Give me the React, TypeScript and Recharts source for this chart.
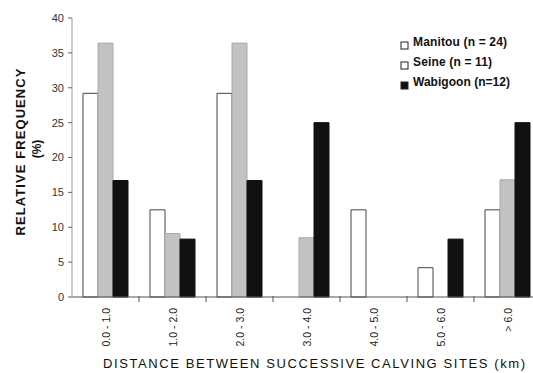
import { BarChart, Bar, XAxis, YAxis } from "recharts";

// distance classes (km)
const categories = ["0.0 - 1.0", "1.0 - 2.0", "2.0 - 3.0", "3.0 - 4.0", "4.0 - 5.0", "5.0 - 6.0", "> 6.0"];

// relative frequency (%)
const manitou = [29.2, 12.5, 29.2, 0, 12.5, 4.2, 12.5];
const seine = [36.4, 9.1, 36.4, 8.5, 0, 0, 16.8];
const wabigoon = [16.7, 8.3, 16.7, 25, 0, 8.3, 25];

const yTicks = [0, 5, 10, 15, 20, 25, 30, 35, 40];

const legendItems = [
    { label: "Manitou (n = 24)", fill: "#fff", len: 94 },
    { label: "Seine (n = 11)", fill: "#fff", len: 79 },
    { label: "Wabigoon (n=12)", fill: "#111", len: 97 },
];

const data = categories.map((c, i) => ({
    name: c,
    manitou: manitou[i],
    seine: seine[i],
    wabigoon: wabigoon[i],
}));

const font = "'Liberation Sans', Arial, sans-serif";

const XTick = (props: any) => {
    const { x, y, payload } = props;
    const half = payload && payload.offset ? payload.offset : 33.5;
    return (
        <g>
            <line x1={x + half} x2={x + half} y1={y - 3} y2={y + 3} stroke="#555" />
            <text
                x={0}
                y={0}
                transform={`translate(${x + 4},${y + 9}) rotate(-90)`}
                textAnchor="end"
                fontSize={10.5}
                fontFamily={font}
                fill="#222"
            >
                {payload.value}
            </text>
        </g>
    );
};

export default function App() {
    return (
        <div style={{ position: "absolute", left: 0, top: 0, width: 533, height: 373, overflow: "hidden", background: "#fff" }}>
            <BarChart
                width={545}
                height={373}
                data={data}
                margin={{ top: 18, right: 4, left: 0, bottom: 0 }}
                barCategoryGap={11}
                barGap={0}
            >
                <XAxis
                    dataKey="name"
                    height={76}
                    interval={0}
                    tickLine={false}
                    tickSize={0}
                    tick={<XTick />}
                    axisLine={{ stroke: "#555" }}
                />
                <YAxis
                    width={72}
                    domain={[0, 40]}
                    ticks={yTicks}
                    interval={0}
                    tickSize={4}
                    tickMargin={4}
                    axisLine={{ stroke: "#999" }}
                    tickLine={{ stroke: "#666" }}
                    tick={{ fontSize: 11, fill: "#333", fontFamily: font }}
                />
                <Bar dataKey="manitou" fill="#fff" stroke="#444" strokeWidth={1} isAnimationActive={false} />
                <Bar dataKey="seine" fill="#c2c2c2" stroke="#aaa" strokeWidth={1} isAnimationActive={false} />
                <Bar dataKey="wabigoon" fill="#111" stroke="#111" strokeWidth={1} isAnimationActive={false} />
            </BarChart>

            <svg width={533} height={373} style={{ position: "absolute", left: 0, top: 0, pointerEvents: "none" }}>
                <text
                    transform="translate(25,152) rotate(-90)"
                    textAnchor="middle"
                    fontSize={13}
                    fontWeight="bold"
                    fontFamily={font}
                    fill="#111"
                    textLength={167}
                    lengthAdjust="spacing"
                >
                    RELATIVE FREQUENCY
                </text>
                <text
                    transform="translate(41,149) rotate(-90)"
                    textAnchor="middle"
                    fontSize={12}
                    fontWeight="bold"
                    fontFamily={font}
                    fill="#111"
                >
                    (%)
                </text>
                <text
                    x={103}
                    y={368}
                    fontSize={13}
                    fontFamily={font}
                    fill="#111"
                    textLength={422}
                    lengthAdjust="spacing"
                >
                    DISTANCE BETWEEN SUCCESSIVE CALVING SITES (km)
                </text>
                {legendItems.map((it, i) => (
                    <g key={it.label}>
                        <rect x={401} y={42 + i * 20} width={7} height={7} fill={it.fill} stroke="#222" strokeWidth={1} />
                        <text
                            x={413}
                            y={46 + i * 20}
                            fontSize={12}
                            fontWeight={600}
                            fontFamily={font}
                            fill="#111"
                            textLength={it.len}
                            lengthAdjust="spacing"
                        >
                            {it.label}
                        </text>
                    </g>
                ))}
            </svg>
        </div>
    );
}
